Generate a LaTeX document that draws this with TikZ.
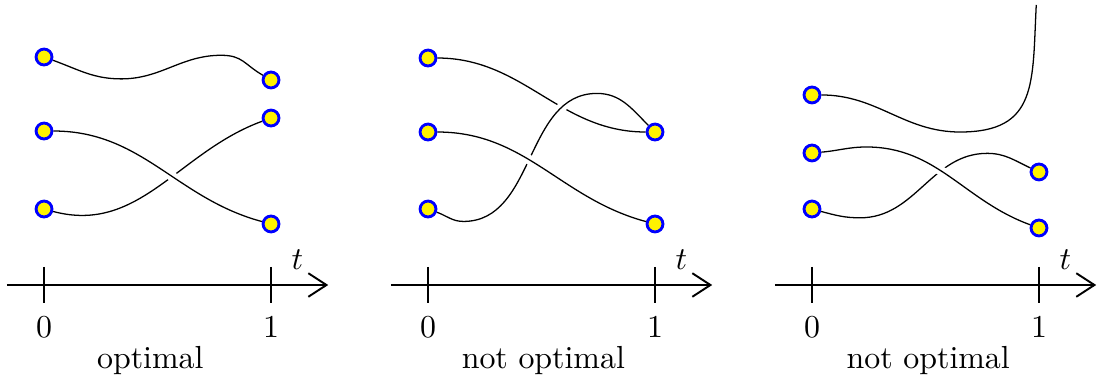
\documentclass[tikz,border=0pt]{standalone}
\usepackage{amsmath,amssymb}
\usetikzlibrary{arrows.meta,backgrounds}

\begin{document}
\begin{tikzpicture}[
  pt/.style={circle, draw=blue, fill=yellow, line width=0.9pt, inner sep=0pt, minimum size=1.75mm},
  over/.style={preaction={draw=white, line width=3pt}},
  ax/.style={-{Straight Barb[length=2mm,width=2.6mm]}, line width=0.6pt},
  tck/.style={line width=0.45pt},
]
\useasboundingbox (-0.485,-1.068) rectangle (11.597,3.139);

% ---------- time axes ----------
\foreach \i/\dx/\lx/\lab in {1/0/1.17/optimal, 2/4.229/1.27/not optimal, 3/8.458/1.28/not optimal}{
  \begin{scope}[xshift=\dx cm]
    \coordinate (s\i) at (-0.41,0);
    \coordinate (e\i) at (3.13,0);
    \draw[ax] (s\i) -- (e\i);
    \draw[tck] (0,0.2) -- (0,-0.2);
    \draw[tck] (2.5,0.2) -- (2.5,-0.2);
    \node (z\i) at (0,-0.47) {$0$};
    \node (o\i) at (2.5,-0.47) {$1$};
    \node (t\i) at (2.79,0.28) {$t$};
    \node (c\i) at (\lx,-0.83) {\lab};
  \end{scope}
}

% ---------- panel 1: optimal ----------
\node[pt] (p1a1) at (0,2.511) {};
\node[pt] (p1a2) at (0,1.696) {};
\node[pt] (p1a3) at (0,0.837) {};
\node[pt] (p1b1) at (2.5,2.258) {};
\node[pt] (p1b2) at (2.5,1.839) {};
\node[pt] (p1b3) at (2.5,0.672) {};
\begin{scope}[on background layer]
  \draw (p1a1) to[out=-20,in=180] (0.85,2.27) to[out=0,in=180] (1.95,2.53) to[out=0,in=150,looseness=1.2] (p1b1);
  \draw (p1a3) to[out=-15,in=200] (p1b2);
  \draw[over] (p1a2) to[out=0,in=165] (p1b3);
\end{scope}

% ---------- panel 2: two paths meet ----------
\begin{scope}[xshift=4.229cm]
  \node[pt] (p2a1) at (0,2.5) {};
  \node[pt] (p2a2) at (0,1.685) {};
  \node[pt] (p2a3) at (0,0.837) {};
  \node[pt] (p2b1) at (2.5,1.685) {};
  \node[pt] (p2b2) at (2.5,0.672) {};
  \begin{scope}[on background layer]
    \draw (p2a1) to[out=0,in=180] (p2b1);
    \draw[over] (p2a3) to[out=-20,in=180] (0.39,0.70) to[out=0,in=180] (1.86,2.11) to[out=0,in=135] (p2b1);
    \draw[over] (p2a2) to[out=0,in=165] (p2b2);
  \end{scope}
\end{scope}

% ---------- panel 3: one path escapes ----------
\begin{scope}[xshift=8.458cm]
  \node[pt] (p3a1) at (0,2.093) {};
  \node[pt] (p3a2) at (0,1.454) {};
  \node[pt] (p3a3) at (0,0.837) {};
  \node[pt] (p3b1) at (2.5,1.245) {};
  \node[pt] (p3b2) at (2.5,0.628) {};
  \coordinate (p3top) at (2.47,3.084);
  \begin{scope}[on background layer]
    \draw (p3a1) to[out=0,in=180] (1.63,1.685) to[out=0,in=-93,looseness=1.35] (p3top);
    \draw (p3a3) to[out=-15,in=180] (0.53,0.74) to[out=0,in=180] (1.93,1.45) to[out=0,in=155] (p3b1);
    \draw[over] (p3a2) to[out=5,in=180] (0.6,1.52) to[out=0,in=160] (p3b2);
  \end{scope}
\end{scope}
\end{tikzpicture}
\end{document}
